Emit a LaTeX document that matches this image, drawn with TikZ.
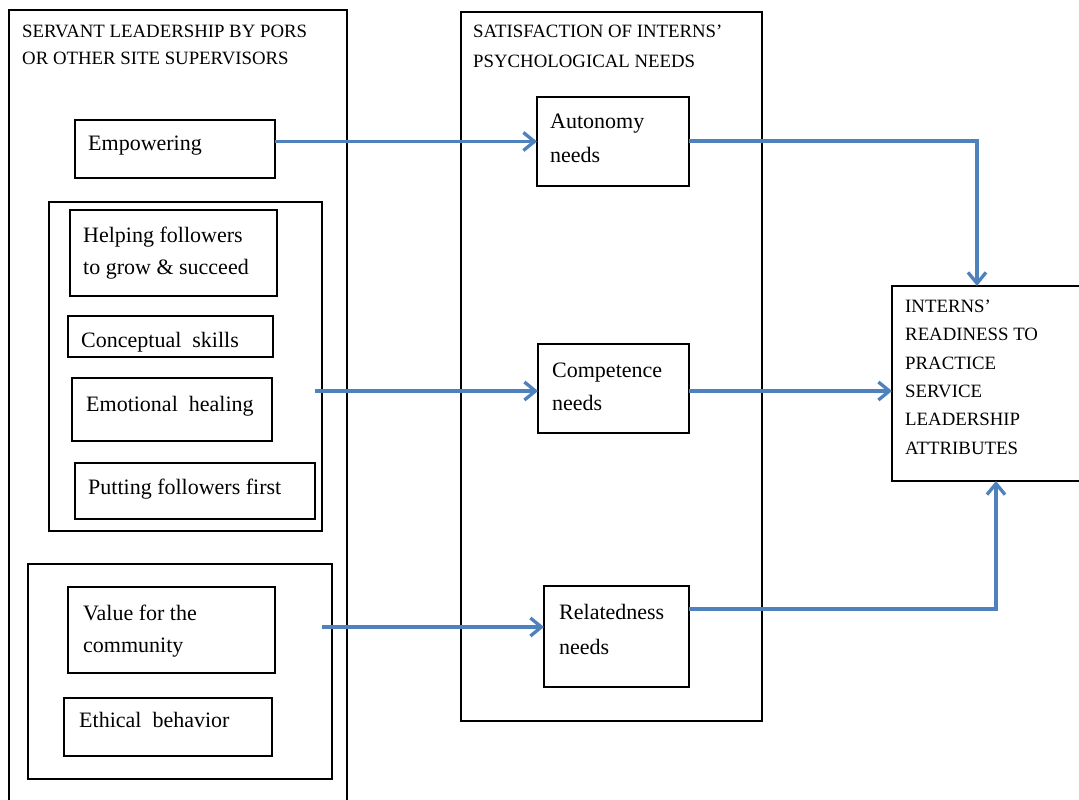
\documentclass[tikz,border=0pt]{standalone}
\usepackage{fontspec}
\setmainfont{Liberation Serif}
\usetikzlibrary{arrows.meta}
\definecolor{arrowblue}{RGB}{79,129,189}
\begin{document}
\begin{tikzpicture}[x=1pt,y=-1pt,
  box/.style={draw, line width=1.6pt, inner sep=0pt, outer sep=0pt, rectangle},
  body/.style={anchor=base west, inner sep=0pt, align=left, font=\fontsize{22}{33}\selectfont},
  caps/.style={anchor=base west, inner sep=0pt, align=left, font=\fontsize{18.8}{28.3}\selectfont},
  flow/.style={draw=arrowblue, line width=3.3pt, -{Straight Barb[length=11pt,width=18pt]}},
]
\useasboundingbox (0,0) rectangle (1079,800);
\fill[white] (0,0) rectangle (1079,800);

% left column
\node[box, minimum width=338pt, minimum height=820pt] (outerL) at (178,420) {};
\node[caps, font=\fontsize{18.8}{28}\selectfont] (tL) at (22,65) {SERVANT LEADERSHIP BY PORS\\OR OTHER SITE SUPERVISORS};

\node[box, minimum width=200pt, minimum height=58pt] (emp) at (175,149) {};
\node[body] (tEmp) at (88,150) {Empowering};

\node[box, minimum width=273pt, minimum height=329pt] (g2) at (185.5,366.5) {};
\node[box, minimum width=207pt, minimum height=86pt] (help) at (173.5,253) {};
\node[body, font=\fontsize{22}{32}\selectfont] (tHelp) at (83,274) {Helping followers\\to grow \& succeed};
\node[box, minimum width=205pt, minimum height=41pt] (conc) at (170.5,336.5) {};
\node[body] (tConc) at (81,347) {Conceptual\ \ skills};
\node[box, minimum width=200pt, minimum height=63pt] (emo) at (172,409.5) {};
\node[body] (tEmo) at (86,411) {Emotional\ \ healing};
\node[box, minimum width=240pt, minimum height=56pt] (put) at (195,491) {};
\node[body] (tPut) at (88,494) {Putting\ followers\ first};

\node[box, minimum width=304pt, minimum height=215pt] (g3) at (180,671.5) {};
\node[box, minimum width=207pt, minimum height=86pt] (val) at (171.5,630) {};
\node[body, font=\fontsize{22}{32}\selectfont] (tVal) at (83,652) {Value for the\\community};
\node[box, minimum width=208pt, minimum height=58pt] (eth) at (168,727) {};
\node[body] (tEth) at (79,727) {Ethical\ \ behavior};

% middle column
\node[box, minimum width=301pt, minimum height=709pt] (mid) at (611.5,366.5) {};
\node[caps, font=\fontsize{18.8}{30}\selectfont] (tM) at (473,67) {SATISFACTION OF INTERNS’\\PSYCHOLOGICAL NEEDS};
\node[box, minimum width=152pt, minimum height=89pt] (aut) at (613,141.5) {};
\node[body, font=\fontsize{22}{34}\selectfont] (tAut) at (550,162) {Autonomy\\needs};
\node[box, minimum width=151pt, minimum height=89pt] (com) at (613.5,388.5) {};
\node[body] (tCom) at (552,410) {Competence\\needs};
\node[box, minimum width=145pt, minimum height=101pt] (rel) at (616.5,636.5) {};
\node[body, font=\fontsize{22}{35}\selectfont] (tRel) at (559,654) {Relatedness\\needs};

% right box
\node[box, minimum width=208pt, minimum height=195pt] (right) at (996,383.5) {};
\node[caps] (tR) at (905,454) {INTERNS’\\READINESS TO\\PRACTICE\\SERVICE\\LEADERSHIP\\ATTRIBUTES};

% connectors
\coordinate (s1) at (emp.east |- aut.west);
\coordinate (s2) at (315,391);
\coordinate (s3) at (322,627);
\draw[flow] (s1) -- (aut.west);
\draw[flow] (s2) -- (s2 -| com.west);
\draw[flow] (s3) -- (s3 -| rel.west);

\coordinate (e1) at (977,141);
\coordinate (e3) at (996,609);
\draw[flow] (aut.east |- e1) -| (e1 |- right.north);
\draw[flow] (com.east |- s2) -- (s2 -| right.west);
\draw[flow] (rel.east |- e3) -| (right.south);
\end{tikzpicture}
\end{document}
